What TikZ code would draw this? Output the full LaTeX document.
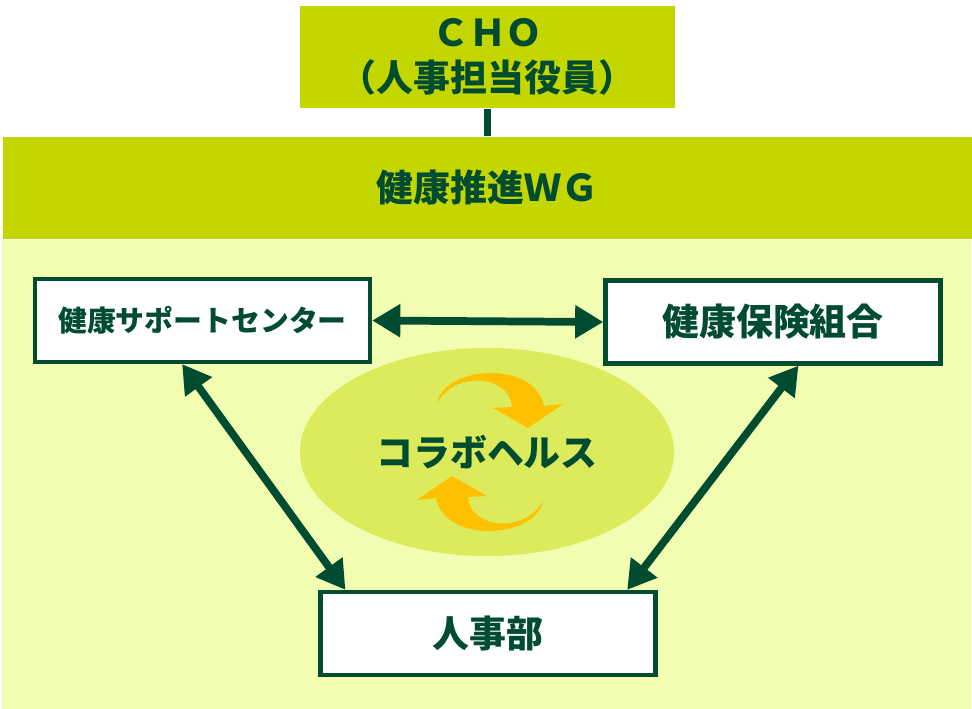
\documentclass[tikz,border=0pt]{standalone}
\usepackage{fontspec}
\setmainfont{Noto Sans CJK JP}
\usetikzlibrary{arrows.meta,calc,shapes.geometric}

\definecolor{dkgreen}{HTML}{004C30}
\definecolor{band}{HTML}{C4D600}
\definecolor{pale}{HTML}{F1FDB1}
\definecolor{lime}{HTML}{DCEB5C}
\definecolor{amber}{HTML}{FFC000}

\tikzset{
  box/.style={draw=dkgreen, line width=1.2pt, fill=white, inner sep=0pt,
    minimum width=3.35cm, minimum height=0.83cm, text=dkgreen,
    font=\bfseries\fontsize{10.5}{12.8}\selectfont},
  link/.style={draw=dkgreen, line width=2.2pt,
    {Triangle[length=8pt,width=9pt]}-{Triangle[length=8pt,width=9pt]}},
}

\begin{document}
\begin{tikzpicture}[x=0.01cm, y=-0.01cm]
  \useasboundingbox (0,0) rectangle (972,709);
  % background
  \fill[pale] (2,240) rectangle (971,709);

  \node [fill=band, inner sep=0pt, minimum width=3.75cm, minimum height=1.02cm,
    align=center, text=dkgreen, font=\bfseries\fontsize{10.5}{12.8}\selectfont]
    (cho) at (487.5,57) {ＣＨＯ\\（人事担当役員）};
  \node [fill=band, inner sep=0pt, minimum width=9.69cm, minimum height=1.02cm,
    text=dkgreen, font=\bfseries\fontsize{10.5}{12.8}\selectfont]
    (wg) at (487.5,188) {健康推進ＷＧ};
  \draw [dkgreen, line width=2pt] (cho.south) -- (wg.north);

  % collaboration ellipse
  \node [ellipse, fill=lime, minimum width=3.74cm, minimum height=2.08cm,
    inner sep=0pt, text=dkgreen, font=\bfseries\fontsize{10.5}{12.8}\selectfont]
    (collab) at (487,452) {コラボヘルス};

  % orange cycle arrows
  \fill[amber] (437,403) .. controls (445,365) and (535,360) .. (544,406)
    -- (563,404) -- (528,428) -- (493,408) -- (512,407)
    .. controls (510,375) and (455,370) .. cycle;
  \fill[amber, rotate around={180:(490,452)}] (437,403) .. controls (445,365) and (535,360) .. (544,406)
    -- (563,404) -- (528,428) -- (493,408) -- (512,407)
    .. controls (510,375) and (455,370) .. cycle;

  \node [box, font=\bfseries\fontsize{8.2}{10}\selectfont] (support) at (202.5,320.5) {健康サポートセンター};
  \node [box] (kenpo) at (773,322) {健康保険組合};
  \node [box] (jinji) at (488,633.5) {人事部};

  \draw [link] (support.east) -- (kenpo.west);
  \draw [link] ($(support.south west)!0.44!(support.south east)$)
    -- ($(jinji.north west)!0.08!(jinji.north east)$);
  \draw [link] ($(kenpo.south west)!0.575!(kenpo.south east)$)
    -- ($(jinji.north west)!0.91!(jinji.north east)$);
\end{tikzpicture}
\end{document}
